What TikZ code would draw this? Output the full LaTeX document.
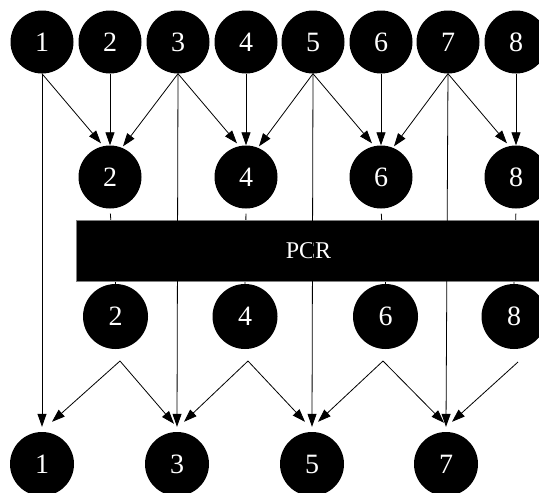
\documentclass[tikz,border=0pt]{standalone}
\usepackage{fontspec}
\setmainfont{Liberation Serif}
\usetikzlibrary{arrows.meta}
\tikzset{
  dot/.style={circle,fill=black,text=white,inner sep=0pt,minimum size=63pt,font=\fontsize{28}{28}\selectfont},
  link/.style={line width=0.8pt,-{Triangle[length=13pt,width=9pt]}},
  tick/.style={line width=0.8pt,shorten <=5pt}
}
\begin{document}
\begin{tikzpicture}[x=1pt,y=1pt]
\useasboundingbox (0,0) rectangle (539,-493);
% first row
\path (42,-42) node(t1)[dot]{1}
(110,-42) node(t2)[dot]{2}
(178,-42) node(t3)[dot]{3}
(246,-42) node(t4)[dot]{4}
(313,-42) node(t5)[dot]{5}
(381,-42) node(t6)[dot]{6}
(448,-42) node(t7)[dot]{7}
(516,-42) node(t8)[dot]{8};
% second row
\path (110,-177) node(m2)[dot]{2}
(246,-177) node(m4)[dot]{4}
(381,-177) node(m6)[dot]{6}
(516,-177) node(m8)[dot]{8};
% third row, below the PCR bar
\path (115.5,-316.5) node(c2)[dot,minimum size=65pt]{2}
(245,-316.5) node(c4)[dot,minimum size=65pt]{4}
(385.5,-316.5) node(c6)[dot,minimum size=65pt]{6}
(514,-316.5) node(c8)[dot,minimum size=65pt]{8};
\coordinate (s2) at (120,-361);
\coordinate (s4) at (248,-361);
\coordinate (s6) at (383,-361);
\coordinate (s8) at (518,-362);
% last row
\path (42,-464) node(b1)[dot,minimum size=64pt]{1}
(177,-464) node(b3)[dot,minimum size=64pt]{3}
(312,-464) node(b5)[dot,minimum size=64pt]{5}
(446,-464) node(b7)[dot,minimum size=64pt]{7};

% pairs pass through the bar
\draw[tick](m2.south)--(c2.north);
\draw[tick](m4.south)--(c4.north);
\draw[tick](m6.south)--(c6.north);
\draw[tick](m8.south)--(c8.north);
\node(pcr)[fill=black,draw=gray,line width=0.8pt,text=white,minimum width=465pt,minimum height=61pt,inner sep=0pt,font=\fontsize{24}{24}\selectfont] at (308.5,-250.5){PCR};

% first row to second row
\draw[link](t1.south)--([xshift=-9pt,yshift=2pt]m2.north);
\draw[link](t2.south)--(m2.north);
\draw[link](t3.south)--([xshift=13pt,yshift=-1pt]m2.north);
\draw[link](t3.south)--([xshift=-9pt,yshift=2pt]m4.north);
\draw[link](t4.south)--(m4.north);
\draw[link](t5.south)--([xshift=13pt,yshift=-1pt]m4.north);
\draw[link](t5.south)--([xshift=-9pt,yshift=2pt]m6.north);
\draw[link](t6.south)--(m6.north);
\draw[link](t7.south)--([xshift=13pt,yshift=-1pt]m6.north);
\draw[link](t7.south)--([xshift=-9pt,yshift=2pt]m8.north);
\draw[link](t8.south)--(m8.north);

% odd ones go straight down
\draw[link](t1.south)--([yshift=5pt]b1.north);
\draw[link](t3.south)--([yshift=5pt]b3.north);
\draw[link](t5.south)--([yshift=5pt]b5.north);
\draw[link](t7.south)--([yshift=5pt]b7.north);

% third row to last row
\draw[link](s2)--([xshift=10pt,yshift=10pt]b1.north);
\draw[link](s2)--([xshift=-3pt,yshift=8pt]b3.north);
\draw[link](s4)--([xshift=7pt,yshift=10pt]b3.north);
\draw[link](s4)--([xshift=-7pt,yshift=10pt]b5.north);
\draw[link](s6)--([xshift=6pt,yshift=10pt]b5.north);
\draw[link](s6)--([xshift=-2pt,yshift=9pt]b7.north);
\draw[link](s8)--([xshift=6pt,yshift=10pt]b7.north);
\end{tikzpicture}
\end{document}
